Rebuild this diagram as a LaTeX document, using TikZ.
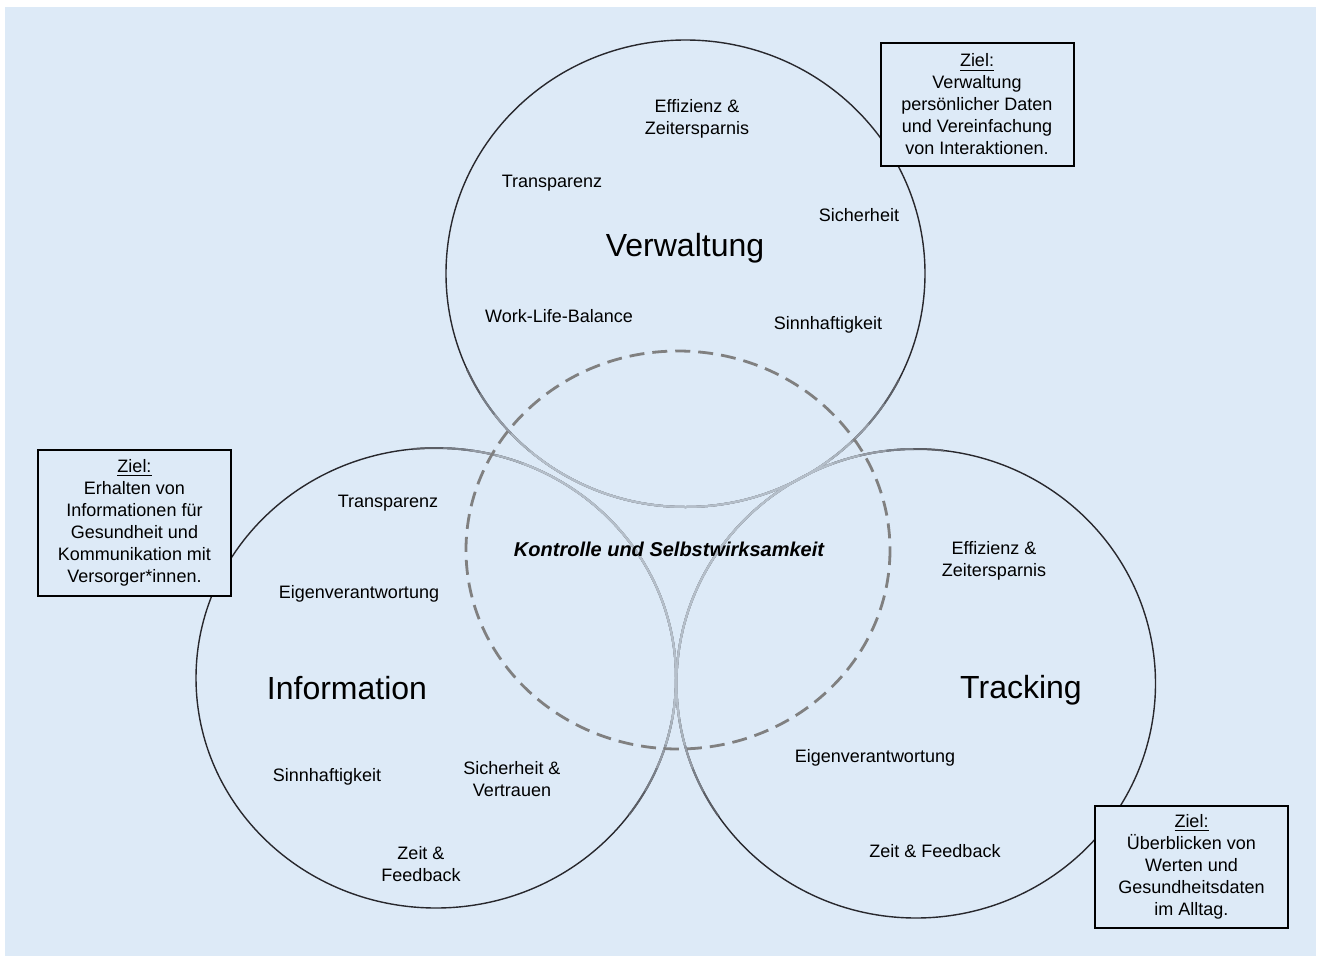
\documentclass[tikz,border=0pt]{standalone}
\usepackage{fontspec}
\setmainfont{Liberation Sans}
\newlength{\du}
\setlength{\du}{0.5pt}
\definecolor{bgblue}{RGB}{221,234,247}
\definecolor{ringline}{RGB}{40,40,45}
\definecolor{dashgray}{RGB}{128,128,128}
\tikzset{
  term/.style={align=center, inner sep=0pt, font=\fontsize{9}{11}\selectfont},
  area/.style={inner sep=0pt, font=\fontsize{16}{19}\selectfont},
  goalbox/.style={draw=black, line width=1pt, fill=bgblue, align=center, inner sep=0pt,
    minimum width=193\du, font=\fontsize{9}{11}\selectfont},
  ring/.style={ringline, line width=0.7pt},
}
\newcommand{\zielhead}{\underline{Ziel:}}
\begin{document}
\begin{tikzpicture}
\pgftransformxscale{1.000000}
\pgftransformyscale{-1.000000}
\useasboundingbox (0\du,0\du) rectangle (1319\du,959\du);
\fill[bgblue] (5\du,7\du) rectangle (1316\du,956\du);
% ring centres
\coordinate (vwc) at (685.5\du,273.5\du);
\coordinate (inc) at (436\du,678\du);
\coordinate (trc) at (916\du,683.5\du);
\coordinate (ksc) at (678\du,550\du);
\def\vwring{(vwc) ellipse [x radius=239.5\du, y radius=233.5\du]}
\def\inring{(inc) ellipse [x radius=240\du, y radius=230\du]}
\def\trring{(trc) ellipse [x radius=239.5\du, y radius=234.5\du]}
\draw[ring] \vwring;
\draw[ring] \inring;
\draw[ring] \trring;
% rings get paler towards the core
\foreach \s/\p in {1.35/72,1.22/55,1.1/40,0.98/28,0.85/22}{
  \begin{scope}
  \clip (ksc) ellipse [x radius=\s*212\du, y radius=\s*199\du];
  \draw[ringline!\p!bgblue, line width=1pt] \vwring;
  \draw[ringline!\p!bgblue, line width=1pt] \inring;
  \draw[ringline!\p!bgblue, line width=1pt] \trring;
  \end{scope}
}
% common core
\draw[dashgray, line width=1.4pt, dash pattern=on 7.5pt off 4pt] (ksc) ellipse [x radius=212\du, y radius=199\du];
\node[font=\fontsize{10}{12}\selectfont\bfseries\itshape, inner sep=0pt] (kontrolle) at (669\du,549\du){Kontrolle und Selbstwirksamkeit};
% Verwaltung
\node[area] (verwaltung) at (685\du,248\du){Verwaltung};
\node[term] (vweffizienz) at (697\du,119\du){Effizienz \&\\Zeitersparnis};
\node[term] (vwtransparenz) at (552\du,183\du){Transparenz};
\node[term] (vwsicherheit) at (859\du,215\du){Sicherheit};
\node[term] (vwbalance) at (559\du,316\du){Work-Life-Balance};
\node[term] (vwsinn) at (828\du,325\du){Sinnhaftigkeit};
% Information
\node[area] (information) at (347\du,688\du){Information};
\node[term] (intransparenz) at (388\du,503\du){Transparenz};
\node[term] (ineigen) at (359\du,594\du){Eigenverantwortung};
\node[term] (insinn) at (327\du,777\du){Sinnhaftigkeit};
\node[term] (invertrauen) at (512\du,779\du){Sicherheit \&\\Vertrauen};
\node[term] (infeedback) at (421\du,864\du){Zeit \&\\Feedback};
% Tracking
\node[area] (tracking) at (1021\du,690\du){Tracking};
\node[term] (treffizienz) at (994\du,561\du){Effizienz \&\\Zeitersparnis};
\node[term] (treigen) at (875\du,758\du){Eigenverantwortung};
\node[term] (trfeedback) at (935\du,851\du){Zeit \& Feedback};
% goal boxes
\node[goalbox, minimum height=123\du] (vwziel) at (977\du,104.5\du){\zielhead\\Verwaltung\\pers\"onlicher Daten\\und Vereinfachung\\von Interaktionen.};
\node[goalbox, minimum height=146\du] (inziel) at (134.5\du,523\du){\zielhead\\Erhalten von\\Informationen f\"ur\\Gesundheit und\\Kommunikation mit\\Versorger*innen.};
\node[goalbox, minimum height=122\du] (trziel) at (1191.5\du,867\du){\zielhead\\\"Uberblicken von\\Werten und\\Gesundheitsdaten\\im Alltag.};
\end{tikzpicture}
\end{document}
